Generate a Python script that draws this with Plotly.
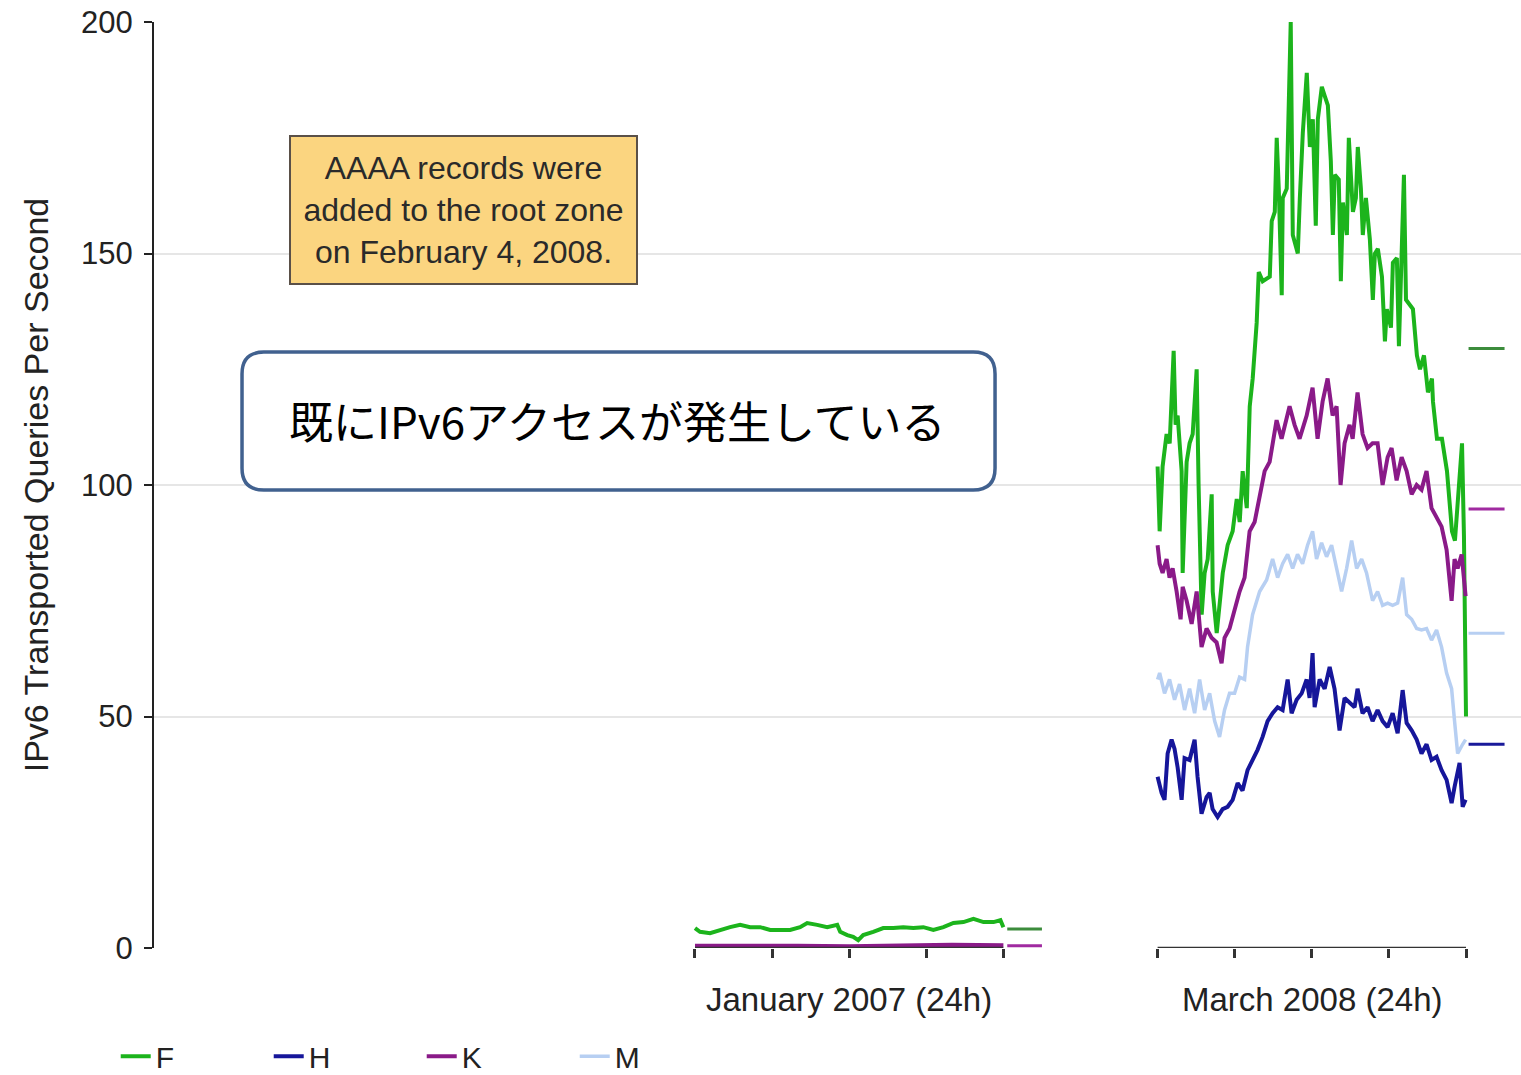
import plotly.graph_objects as go

# ---------------- data ----------------
series_names = ["F", "H", "K", "M"]
series_colors = {"F": "#1cb41c", "H": "#16169a", "K": "#8a1a88", "M": "#b7cff2"}
avg_colors = {"F": "#3c8c3c", "H": "#1a1a9a", "K": "#a02aa0", "M": "#b7cff2"}

window_labels = ["January 2007 (24h)", "March 2008 (24h)"]
window_start = [0, 36]          # composite-axis hour where each 24h window starts
tick_hours = [0, 6, 12, 18, 24]

# January 2007 (hours into the day, queries/s)
jan_hours_f = [0, 0.39, 1.17, 1.95, 2.73, 3.51, 4.29, 5.07, 5.85, 6.63, 7.40, 8.18, 8.73,
               9.51, 10.29, 11.07, 11.30, 11.85, 12.31, 12.70, 13.09, 13.87, 14.65, 15.43,
               16.21, 16.99, 17.77, 18.55, 19.33, 20.11, 20.89, 21.67, 22.45, 23.23, 23.77, 24.0]
jan_f = [4.3, 3.5, 3.2, 3.9, 4.5, 5.0, 4.5, 4.5, 3.9, 3.9, 3.9, 4.5, 5.4,
         5.0, 4.5, 5.0, 3.5, 2.8, 2.4, 1.7, 2.8, 3.5, 4.3, 4.3,
         4.5, 4.3, 4.5, 3.9, 4.5, 5.4, 5.6, 6.3, 5.6, 5.6, 6.0, 4.5]
jan_hours_k = [0, 4, 8, 12, 16, 20, 24]
jan_k = [0.5, 0.6, 0.5, 0.4, 0.6, 0.7, 0.6]
jan_avg = {"F": 4.1, "K": 0.5}

# March 2008
mar_hours_f = [0.0, 0.16, 0.39, 0.70, 0.94, 1.25, 1.40, 1.56, 1.87, 1.95, 2.26, 2.49, 2.73,
               3.04, 3.19, 3.43, 3.66, 3.90, 4.21, 4.29, 4.60, 4.83, 5.07, 5.45, 5.84, 6.16,
               6.39, 6.62, 6.94, 7.17, 7.40, 7.71, 7.87, 8.18, 8.73, 8.88, 9.12, 9.27, 9.43,
               9.66, 9.74, 10.05, 10.36, 10.52, 10.91, 11.07, 11.30, 11.61, 11.85, 12.08,
               12.31, 12.47, 12.78, 13.01, 13.25, 13.48, 13.64, 13.79, 14.10, 14.26, 14.42,
               14.73, 14.88, 15.20, 15.43, 15.58, 15.82, 15.97, 16.21, 16.52, 16.75, 16.91,
               17.14, 17.46, 17.69, 17.84, 18.16, 18.31, 18.62, 18.78, 19.17, 19.33, 19.64,
               19.87, 20.18, 20.42, 20.73, 21.04, 21.35, 21.43, 21.74, 22.13, 22.52, 22.91,
               23.14, 23.38, 23.69, 23.84, 24.0]
mar_f = [104, 90, 104, 111, 109, 129, 113, 115, 103, 81, 105, 109, 111,
         125, 100, 72, 81, 84, 98, 77, 68, 75, 81, 87, 90, 97,
         92, 103, 95, 117, 123, 135, 146, 144, 145, 157, 159, 175, 164,
         141, 162, 164, 200, 154, 150, 162, 176, 189, 173, 179,
         156, 179, 186, 184, 182, 170, 154, 167, 166, 144, 161,
         154, 175, 159, 162, 173, 164, 154, 162, 153, 140, 150,
         151, 145, 131, 138, 134, 148, 149, 130, 167, 140, 139,
         138, 128, 125, 128, 120, 123, 118, 110, 110, 103, 90,
         88, 98, 109, 89, 50]

mar_hours_k = [0, 0.16, 0.39, 0.70, 0.93, 1.17, 1.48, 1.79, 1.95, 2.26, 2.65, 3.04, 3.42,
               3.81, 4.20, 4.59, 4.98, 5.21, 5.60, 5.99, 6.38, 6.77, 7.16, 7.55, 7.94, 8.33,
               8.72, 9.11, 9.26, 9.65, 10.04, 10.27, 10.66, 11.05, 11.60, 12.06, 12.45, 12.84,
               13.23, 13.62, 13.93, 14.24, 14.55, 14.94, 15.18, 15.56, 15.95, 16.34, 16.73,
               17.12, 17.51, 17.90, 18.21, 18.60, 18.99, 19.38, 19.77, 20.16, 20.54, 20.93,
               21.32, 21.71, 22.10, 22.49, 22.88, 23.11, 23.35, 23.66, 23.97]
mar_k = [87, 83, 81, 84, 80, 82, 77, 71, 78, 75, 70, 77, 65,
         69, 67, 66, 61.5, 67, 69, 73, 77, 80, 90, 92, 97, 103,
         105, 111, 114, 110, 114, 117, 113, 110, 115, 121, 110, 118,
         123, 115, 117, 100, 109, 113, 110, 120, 111, 108, 109,
         109, 100, 106, 108, 101, 106, 103, 98, 100, 99, 103,
         95, 93, 91, 86, 75, 84, 82, 85, 76]

mar_hours_m = [0, 0.16, 0.54, 0.93, 1.32, 1.71, 2.10, 2.49, 2.88, 3.27, 3.66, 4.05, 4.44,
               4.82, 5.21, 5.60, 5.99, 6.38, 6.77, 7.00, 7.39, 7.94, 8.48, 8.95, 9.34, 9.73,
               10.12, 10.51, 10.89, 11.28, 11.67, 12.06, 12.37, 12.76, 13.15, 13.54, 13.93,
               14.32, 14.71, 15.10, 15.49, 15.88, 16.26, 16.73, 17.12, 17.51, 17.90, 18.29,
               18.68, 19.07, 19.38, 19.77, 20.16, 20.54, 20.93, 21.32, 21.71, 22.10, 22.49,
               22.88, 23.11, 23.35, 23.74, 23.97]
mar_m = [58, 59.4, 55, 58, 53.6, 57, 51.4, 56, 50.7, 58, 51.4, 55, 49,
         45.6, 51.4, 55, 55, 58.5, 58, 65, 72, 77, 79.5, 84, 80, 83,
         85, 82, 85, 83, 87, 90, 84, 87.5, 84.5, 87, 82,
         77, 82, 88, 82, 84, 81, 75, 77, 74, 74.5, 74,
         74.5, 80, 72, 71, 69, 68.7, 69, 66.5, 68.7, 65, 59.4,
         56, 49, 42, 44, 45]

mar_hours_h = [0, 0.31, 0.54, 0.78, 1.09, 1.32, 1.56, 1.87, 2.10, 2.49, 2.88, 3.11, 3.42,
               3.81, 4.05, 4.28, 4.67, 5.06, 5.45, 5.84, 6.23, 6.61, 7.00, 7.39, 7.78, 8.17,
               8.56, 8.95, 9.34, 9.73, 10.12, 10.43, 10.82, 11.21, 11.60, 11.83, 12.06, 12.22,
               12.61, 13.00, 13.39, 13.77, 14.16, 14.55, 14.94, 15.33, 15.56, 15.95, 16.34,
               16.73, 17.12, 17.51, 17.90, 18.29, 18.68, 19.07, 19.38, 19.77, 20.16, 20.54,
               20.93, 21.32, 21.71, 22.10, 22.49, 22.88, 23.11, 23.50, 23.74, 23.97]
mar_h = [37, 33.5, 32, 42, 45, 43, 39, 32, 41, 40.6, 45, 37, 29,
         32.6, 33.5, 30, 28.3, 30, 30.5, 32, 35.6, 34, 38.4, 40.6, 42.8, 45.6,
         49, 50.7, 52, 51.4, 58, 50.7, 53.6, 55, 58, 54, 63.7, 52,
         58, 56, 60.7, 56, 47, 54, 53, 52, 56, 50.7, 52,
         49, 51.4, 49, 47.7, 50.7, 46.4, 55.7, 48.6, 47, 45, 42,
         44, 40.6, 41.3, 38.4, 36.3, 31.3, 34.8, 40, 30.5, 32]
mar_avg = {"F": 129.5, "H": 44, "K": 94.8, "M": 68}

note_text = "AAAA records were<br>added to the root zone<br>on February 4, 2008."
callout_text = "既にIPv6アクセスが発生している"
y_title = "IPv6 Transported Queries Per Second"

# ---------------- figure ----------------
FONT = "Liberation Sans, Arial, sans-serif"
fig = go.Figure()

mar_data = {"F": (mar_hours_f, mar_f), "H": (mar_hours_h, mar_h),
            "K": (mar_hours_k, mar_k), "M": (mar_hours_m, mar_m)}
jan_data = {"F": (jan_hours_f, jan_f), "K": (jan_hours_k, jan_k)}

widths = {"F": 4, "H": 4, "K": 4, "M": 3.5}
for name in series_names:
    xs, ys = [], []
    if name in jan_data:
        hx, hy = jan_data[name]
        xs += [window_start[0] + h for h in hx] + [None]
        ys += list(hy) + [None]
    hx, hy = mar_data[name]
    xs += [window_start[1] + h for h in hx]
    ys += list(hy)
    fig.add_trace(go.Scatter(x=xs, y=ys, mode="lines", name=name,
                             line=dict(color=series_colors[name], width=widths[name]),
                             connectgaps=False))

# average marks to the right of each window
for name, v in jan_avg.items():
    fig.add_trace(go.Scatter(x=[window_start[0] + 24.3, window_start[0] + 27.0], y=[v, v],
                             mode="lines", showlegend=False, hoverinfo="skip",
                             line=dict(color=avg_colors[name], width=3)))
for name, v in mar_avg.items():
    fig.add_trace(go.Scatter(x=[window_start[1] + 24.2, window_start[1] + 27.0], y=[v, v],
                             mode="lines", showlegend=False, hoverinfo="skip",
                             line=dict(color=avg_colors[name], width=3)))

# window brackets (axis segments)
for s in window_start:
    fig.add_shape(type="line", xref="x", yref="y", x0=s, x1=s + 24, y0=0, y1=0,
                  line=dict(color="#333333", width=2.5), layer="above")

tickvals = [s + t for s in window_start for t in tick_hours]

for s, lab in zip(window_start, window_labels):
    fig.add_annotation(x=s + 12, y=-0.056, xref="x", yref="paper", text=lab,
                       showarrow=False, yanchor="middle",
                       font=dict(family=FONT, size=33, color="#222222"))

# yellow note box
fig.add_annotation(x=-18.0, y=159.4, xref="x", yref="y", text=note_text, showarrow=False,
                   font=dict(family=FONT, size=32, color="#2a2a2a"),
                   bgcolor="#fbd580", bordercolor="#5a5048", borderwidth=2,
                   width=343, height=144, align="center")

# rounded callout box
def rounded_path(x0, x1, y0, y1, rx, ry):
    return (f"M{x0 + rx},{y1} L{x1 - rx},{y1} Q{x1},{y1} {x1},{y1 - ry} "
            f"L{x1},{y0 + ry} Q{x1},{y0} {x1 - rx},{y0} L{x0 + rx},{y0} "
            f"Q{x0},{y0} {x0},{y0 + ry} L{x0},{y1 - ry} Q{x0},{y1} {x0 + rx},{y1} Z")

fig.add_shape(type="path", xref="x", yref="y",
              path=rounded_path(-35.25, 23.35, 98.9, 128.7, 1.7, 4.7),
              fillcolor="white", line=dict(color="#41618f", width=3.5), layer="above")
fig.add_annotation(x=-6.0, y=114.0, xref="x", yref="y", text=callout_text, showarrow=False,
                   font=dict(family="Noto Sans CJK JP", size=44, color="#000000"))

fig.update_layout(
    width=1521, height=1075,
    margin=dict(l=154, r=0, t=22, b=127, autoexpand=False),
    paper_bgcolor="white", plot_bgcolor="white",
    font=dict(family=FONT, color="#222222"),
    showlegend=True,
    legend=dict(orientation="h", x=-0.028, xanchor="left", y=-0.117, yanchor="middle",
                font=dict(family=FONT, size=30, color="#222222"),
                entrywidth=108, entrywidthmode="pixels", itemwidth=30,
                bgcolor="rgba(0,0,0,0)"),
    xaxis=dict(range=[-42.1, 64.28], tickvals=tickvals, ticktext=[""] * len(tickvals),
               ticks="outside", ticklen=9, tickwidth=2.5, tickcolor="#333333",
               showgrid=False, zeroline=False, showline=False, fixedrange=True),
    yaxis=dict(range=[0, 200], tickvals=[0, 50, 100, 150, 200],
               ticks="outside", ticklen=8, tickwidth=2, tickcolor="#222222",
               showline=True, linecolor="#222222", linewidth=2,
               showgrid=True, gridcolor="#e6e6e6", gridwidth=2, zeroline=False,
               ticklabelstandoff=5,
               tickfont=dict(family=FONT, size=31, color="#222222"),
               title=dict(text=y_title, standoff=22,
                          font=dict(family=FONT, size=34, color="#222222"))),
)

fig.write_html("out.html")
